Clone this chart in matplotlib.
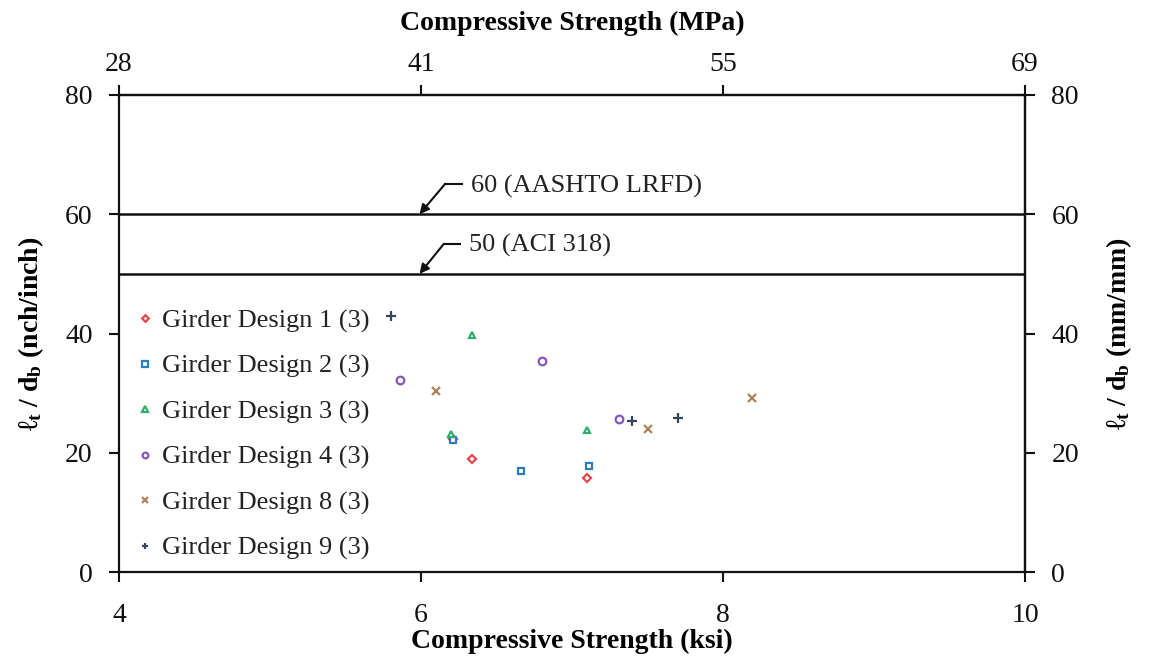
import matplotlib
matplotlib.use('Agg')
import matplotlib.pyplot as plt

# ---- data ----
ksi_ticks = [4, 6, 8, 10]
mpa_labels = ['28', '41', '55', '69']
y_ticks = [0, 20, 40, 60, 80]

labels = ['Girder Design 1 (3)', 'Girder Design 2 (3)', 'Girder Design 3 (3)',
          'Girder Design 4 (3)', 'Girder Design 8 (3)', 'Girder Design 9 (3)']
d1_x = [6.21, 6.34, 7.10]; d1_y = [22.3, 18.9, 15.8]
d2_x = [6.21, 6.66, 7.11]; d2_y = [22.1, 17.0, 17.8]
d3_x = [6.20, 6.34, 7.10]; d3_y = [23.1, 39.7, 23.8]
d4_x = [5.86, 6.80, 7.31]; d4_y = [32.2, 35.4, 25.6]
d8_x = [6.10, 7.50, 8.19]; d8_y = [30.4, 24.0, 29.1]
d9_x = [5.80, 7.40, 7.70]; d9_y = [42.9, 25.3, 25.9]

limit_values = [60, 50]
limit_labels = ['60 (AASHTO LRFD)', '50 (ACI 318)']

# ---- style ----
plt.rcParams['font.family'] = ['Liberation Serif', 'DejaVu Serif']
plt.rcParams['mathtext.fontset'] = 'custom'
plt.rcParams['mathtext.rm'] = 'Liberation Serif'
plt.rcParams['mathtext.bf'] = 'Liberation Serif:bold'
plt.rcParams['mathtext.it'] = 'Liberation Serif:italic'

fig = plt.figure(figsize=(11.51, 6.63), dpi=100)
ax = fig.add_axes([119/1151, 1-572/663, (1025-119)/1151, (572-95)/663])

series = [
    (d1_x, d1_y, 'D', '#E2474F', 4.5),
    (d2_x, d2_y, 's', '#2A7DC0', 5.0),
    (d3_x, d3_y, '^', '#2FAE6E', 5.0),
    (d4_x, d4_y, 'o', '#8557B8', 5.5),
    (d8_x, d8_y, 'x', '#B0825A', 6.0),
    (d9_x, d9_y, '+', '#34465E', 6.5),
]
for (xs, ys, m, c, s), lab in zip(series, labels):
    if m in ('x', '+'):
        ax.plot(xs, ys, linestyle='none', marker=m, color=c, markersize=s,
                markeredgewidth=1.6, label=lab)
    else:
        ax.plot(xs, ys, linestyle='none', marker=m, markerfacecolor='white',
                markeredgecolor=c, markersize=s, markeredgewidth=1.6, label=lab)

for v in limit_values:
    ax.axhline(v, color='#111111', linewidth=1.8)

# annotations: horizontal stub + arrow
ann_text_pos = [(6.33, 64.6), (6.32, 54.7)]
ann_corner = [(6.16, 65.1), (6.15, 55.0)]
ann_stub_end = [6.27, 6.26]
ann_tip = [(5.99, 60.0), (5.99, 50.0)]
for txt, tp, cp, se, tip in zip(limit_labels, ann_text_pos, ann_corner, ann_stub_end, ann_tip):
    ax.plot([cp[0], se], [cp[1], cp[1]], color='#111111', linewidth=1.5)
    ax.annotate('', xy=tip, xytext=cp,
                arrowprops=dict(arrowstyle='-|>', color='#111111', lw=1.5,
                                mutation_scale=14, shrinkA=0, shrinkB=0))
    ax.text(tp[0], tp[1], txt, fontsize=19, va='center', ha='left', color='#222222')

ax.set_xlim(4, 10)
ax.set_ylim(0, 80)
ax.set_xticks(ksi_ticks)
ax.set_yticks(y_ticks)
for sp in ax.spines.values():
    sp.set_linewidth(1.6)
    sp.set_color('#111111')
ax.tick_params(direction='out', length=7, width=1.5, labelsize=20, pad=12, colors='#111111')
ax.tick_params(axis='x', pad=15)

ax.set_xlabel('Compressive Strength (ksi)', fontsize=20, fontweight='bold', labelpad=1)
ax.set_ylabel(r'ℓ$_\mathbf{t}$ / d$_\mathbf{b}$ (nch/inch)', fontsize=20, fontweight='bold', labelpad=14)

top = ax.secondary_xaxis('top')
top.set_xticks(ksi_ticks, mpa_labels)
top.tick_params(direction='out', length=7, width=1.5, labelsize=20, pad=6, colors='#111111')
top.spines['top'].set_linewidth(1.6)
top.set_xlabel('Compressive Strength (MPa)', fontsize=20, fontweight='bold', labelpad=16)

right = ax.secondary_yaxis('right')
right.set_yticks(y_ticks)
right.tick_params(direction='out', length=7, width=1.5, labelsize=20, pad=12, colors='#111111')
right.spines['right'].set_linewidth(1.6)
right.set_ylabel(r'ℓ$_\mathbf{t}$ / d$_\mathbf{b}$ (mm/mm)', fontsize=20, fontweight='bold', labelpad=18)

leg = ax.legend(loc='upper left', bbox_to_anchor=(0.008, 0.574), frameon=False,
                fontsize=19, handlelength=0.6, handletextpad=0.35, labelspacing=0.82,
                borderaxespad=0, markerscale=0.75)
for t in leg.get_texts():
    t.set_color('#222222')

fig.savefig('out.png', dpi=100)
